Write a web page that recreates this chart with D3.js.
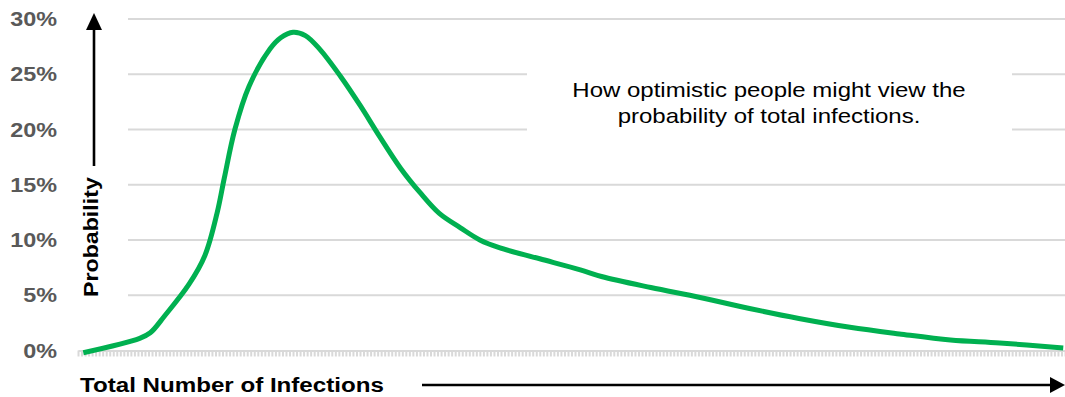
<!DOCTYPE html>
<html>
<head>
<meta charset="utf-8">
<script src="https://cdn.jsdelivr.net/npm/d3@7/dist/d3.min.js"></script>
<style>
  html, body { margin: 0; padding: 0; background: #fff; }
  svg { display: block; }
</style>
</head>
<body>
<svg id="chart" width="1065" height="397"></svg>
<script>
// Number of categories along the infection-count axis
const categoryCount = 280;

// Curve: category position and probability (%)
const curveX = [1, 17, 20, 24, 31, 35.5, 39, 41, 44, 48, 54, 57, 60.5, 64, 68, 74, 79.5, 85, 91, 96.5,
                102, 108, 113.5, 119, 130.5, 142, 148, 162, 176, 190, 204, 218.5, 232.5, 247, 261, 279];
const curveY = [-0.2, 1.1, 1.6, 3.1, 6.0, 8.6, 12.5, 15.6, 20.0, 23.9, 27.3, 28.3, 28.8, 28.5, 27.3, 24.8, 22.2, 19.4, 16.5, 14.3,
                12.4, 11.1, 10.0, 9.3, 8.3, 7.3, 6.7, 5.7, 4.8, 3.8, 2.9, 2.1, 1.5, 0.95, 0.68, 0.23];

// Y axis ticks (%)
const yTicks = [0, 5, 10, 15, 20, 25, 30];
const yTickLabels = ["0%", "5%", "10%", "15%", "20%", "25%", "30%"];

const noteLines = ["How optimistic people might view the", "probability of total infections."];
const xTitle = "Total Number of Infections";
const yTitle = "Probability";

const svg = d3.select("#chart");
const font = "Arial, 'Liberation Sans', sans-serif";
// Text in this chart is set slightly wide
const wide = 1.17;

const x = d3.scaleLinear().domain([0, categoryCount]).range([78, 1065]);
const y = d3.scaleLinear().domain([0, 30]).range([350.5, 19]);

// Gridlines
svg.append("g")
  .selectAll("line")
  .data(yTicks.filter(d => d > 0))
  .join("line")
  .attr("x1", 78).attr("x2", 1065)
  .attr("y1", d => y(d)).attr("y2", d => y(d))
  .attr("stroke", "#d9d9d9")
  .attr("stroke-width", 2);

// Category axis with dense tick marks
const xAxis = svg.append("g")
  .attr("transform", `translate(0,${y(0)})`)
  .call(d3.axisBottom(x)
    .tickValues(d3.range(0, categoryCount + 1))
    .tickSize(6)
    .tickSizeOuter(0)
    .tickFormat(""));
xAxis.select(".domain").attr("stroke", "#d9d9d9").attr("stroke-width", 2);
xAxis.selectAll(".tick line").attr("stroke", "#d9d9d9").attr("stroke-width", 2);

// Y tick labels
svg.append("g")
  .selectAll("text")
  .data(yTicks)
  .join("text")
  .attr("transform", d => `translate(57,${y(d)}) scale(${wide},1)`)
  .attr("dy", "0.35em")
  .attr("text-anchor", "end")
  .attr("font-family", font)
  .attr("font-weight", "bold")
  .attr("font-size", 20)
  .attr("fill", "#595959")
  .text((d, i) => yTickLabels[i]);

// Note box
svg.append("rect")
  .attr("x", 527).attr("y", 66)
  .attr("width", 485).attr("height", 70)
  .attr("fill", "#fff");
svg.append("g")
  .selectAll("text")
  .data(noteLines)
  .join("text")
  .attr("transform", (d, i) => `translate(769,${96.5 + i * 26.5}) scale(1.2,1)`)
  .attr("text-anchor", "middle")
  .attr("font-family", font)
  .attr("font-size", 20)
  .attr("fill", "#000")
  .text(d => d);

// Probability label box and upward arrow
svg.append("rect")
  .attr("x", 78).attr("y", 0)
  .attr("width", 50).attr("height", 346)
  .attr("fill", "#fff");
svg.append("text")
  .attr("transform", `translate(97.5,297) rotate(-90) scale(1.16,1)`)
  .attr("font-family", font)
  .attr("font-weight", "bold")
  .attr("font-size", 20)
  .attr("fill", "#000")
  .text(yTitle);
svg.append("line")
  .attr("x1", 94).attr("x2", 94)
  .attr("y1", 166).attr("y2", 28)
  .attr("stroke", "#000").attr("stroke-width", 2.6);
svg.append("path")
  .attr("d", "M94,13 L102,30 L86,30 Z")
  .attr("fill", "#000");

// Curve
const line = d3.line()
  .x((d, i) => x(curveX[i] + 0.5))
  .y(d => y(d))
  .curve(d3.curveCatmullRom.alpha(0.5));
svg.append("path")
  .datum(curveY)
  .attr("d", line)
  .attr("fill", "none")
  .attr("stroke", "#00b050")
  .attr("stroke-width", 5)
  .attr("stroke-linejoin", "round");

// X axis title and rightward arrow
svg.append("text")
  .attr("transform", `translate(80,392) scale(1.15,1)`)
  .attr("font-family", font)
  .attr("font-weight", "bold")
  .attr("font-size", 21)
  .attr("fill", "#000")
  .text(xTitle);
svg.append("line")
  .attr("x1", 422).attr("x2", 1052)
  .attr("y1", 385).attr("y2", 385)
  .attr("stroke", "#000").attr("stroke-width", 2.6);
svg.append("path")
  .attr("d", "M1065,385 L1050,377 L1050,393 Z")
  .attr("fill", "#000");
</script>
</body>
</html>
